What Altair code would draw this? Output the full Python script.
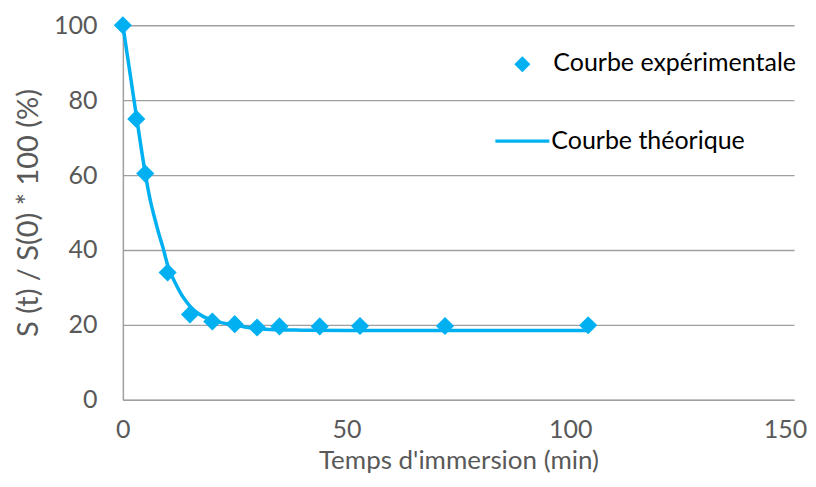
import altair as alt
import pandas as pd

# Experimental points (time in min, S(t)/S(0)*100 in %)
exp_t = [0, 3, 5, 10, 15, 20, 25, 30, 35, 44, 53, 72, 104]
exp_s = [100, 75, 60.4, 34, 22.8, 20.9, 20.2, 19.3, 19.6, 19.6, 19.7, 19.7, 19.9]

# Theoretical curve
theo_t = [0, 1, 2, 3, 4, 5, 6, 7, 8, 9, 10, 11, 12, 13, 14, 15, 16, 18, 20, 22, 25,
          28, 30, 35, 40, 50, 60, 80, 104]
theo_s = [100, 92, 84, 76, 68, 60.5, 54, 49, 44.5, 40.5, 36, 33, 30.5, 28.3, 26.5, 25,
          23.8, 22.2, 21.3, 20.6, 20, 19.3, 19, 18.7, 18.6, 18.5, 18.5, 18.5, 18.5]

x_ticks = [0, 50, 100, 150]
y_ticks = [0, 20, 40, 60, 80, 100]
legend_labels = ["Courbe expérimentale", "Courbe théorique"]

BLUE = "#00B0F0"
GRID = "#A0A0A0"
FONT = "Lato"

exp_df = pd.DataFrame({"t": exp_t, "s": exp_s})
theo_df = pd.DataFrame({"t": theo_t, "s": theo_s})

x_enc = alt.X("t:Q",
              scale=alt.Scale(domain=[0, 150], nice=False),
              axis=alt.Axis(values=x_ticks, title="Temps d'immersion (min)", grid=False,
                            labelFlush=False, labelPadding=18, titlePadding=5,
                            titleFontSize=26,
                            labelOffset={"expr": "datum.value == 150 ? -9 : 0"}))
y_enc = alt.Y("s:Q",
              scale=alt.Scale(domain=[0, 100], nice=False),
              axis=alt.Axis(values=y_ticks, title="S (t) / S(0) * 100 (%)", grid=True,
                            labelPadding=26, titlePadding=10))

line = alt.Chart(theo_df).mark_line(color=BLUE, strokeWidth=3.5, interpolate="monotone").encode(
    x=x_enc, y=y_enc)

points = alt.Chart(exp_df).mark_point(shape="diamond", filled=True, size=330, opacity=1,
                                      color=BLUE).encode(x="t:Q", y="s:Q")

leg1 = pd.DataFrame({"label": [legend_labels[0]]})
leg2 = pd.DataFrame({"label": [legend_labels[1]]})

leg_sym = alt.Chart(leg1).mark_point(shape="diamond", filled=True, size=260, opacity=1,
                                     color=BLUE).encode(x=alt.value(400), y=alt.value(39))
leg_txt1 = alt.Chart(leg1).mark_text(align="left", baseline="middle", font=FONT, fontSize=25,
                                     color="#000000").encode(
    x=alt.value(431), y=alt.value(38), text="label:N")
leg_line = alt.Chart(leg2).mark_rule(color=BLUE, strokeWidth=3.5).encode(
    x=alt.value(373), x2=alt.value(427), y=alt.value(116))
leg_txt2 = alt.Chart(leg2).mark_text(align="left", baseline="middle", font=FONT, fontSize=25,
                                     color="#000000").encode(
    x=alt.value(429), y=alt.value(116), text="label:N")

chart = alt.layer(line, points, leg_sym, leg_txt1, leg_line, leg_txt2).properties(
    width=672, height=375,
    autosize=alt.AutoSizeParams(type="none"),
    padding={"left": 115, "top": 17, "right": 14, "bottom": 74},
).configure_view(stroke=None).configure_axis(
    labelFont=FONT, titleFont=FONT, labelFontSize=25, titleFontSize=29,
    labelColor="#595959", titleColor="#595959", titleFontWeight="normal",
    domainColor=GRID, domainWidth=1.5, gridColor=GRID, gridWidth=1.3,
    ticks=False,
)

chart.save("out.html", embed_options={"renderer": "svg", "actions": False})
